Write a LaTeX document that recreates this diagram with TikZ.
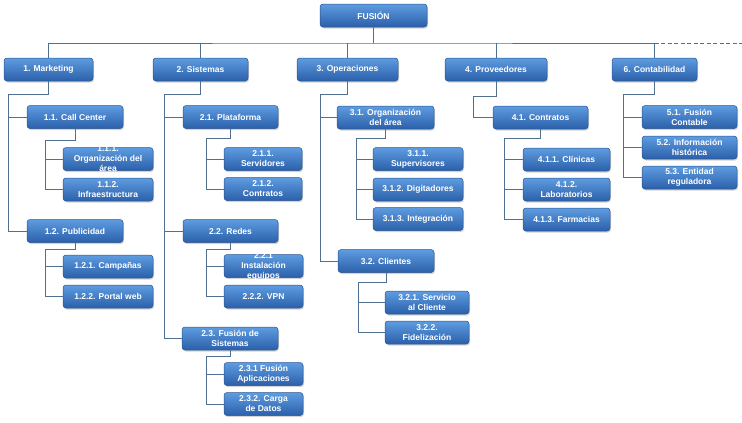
\documentclass[tikz,border=0pt]{standalone}
\usepackage{fontspec}
\setmainfont{Liberation Sans}
\usetikzlibrary{shadows}

\definecolor{boxtop}{HTML}{5E9CE0}
\definecolor{boxbot}{HTML}{2B60AA}
\definecolor{boxline}{HTML}{2A5590}
\definecolor{linea}{HTML}{4F7090}

\tikzset{
  box/.style={rectangle, rounded corners=3pt, draw=boxline, line width=0.5pt,
    top color=boxtop, bottom color=boxbot, minimum height=23pt, inner sep=0pt,
    drop shadow={shadow xshift=1pt, shadow yshift=-1.5pt, opacity=0.35}},
  txt/.style={text=white, font=\fontsize{8.5}{10}\selectfont\bfseries,
    align=center, inner sep=0pt},
  conn/.style={draw=linea, line width=0.8pt},
}

\begin{document}
\begin{tikzpicture}[x=1pt, y=-1pt]
    \useasboundingbox (0,0) rectangle (742,423);

    % Raiz
    \node[box, minimum width=107pt, label={[txt]center:FUSIÓN}] (fusion) at (373.5,15.5) {};

    % Nivel 1
    \node[box, minimum width=89pt, label={[txt]center:1. Marketing}] (mkt) at (48.5,69.5) {};
    \node[box, minimum width=95pt, label={[txt]center:2. Sistemas}] (sis) at (200.5,69.5) {};
    \node[box, minimum width=101pt, label={[txt]center:3. Operaciones}] (ope) at (347.5,69.5) {};
    \node[box, minimum width=102pt, label={[txt]center:4. Proveedores}] (prov) at (496,69.5) {};
    \node[box, minimum width=85pt, label={[txt]center:6. Contabilidad}] (cont) at (654.5,69.5) {};

    % Marketing
    \node[box, minimum width=96pt, label={[txt]center:1.1. Call Center}] (m1) at (75,117) {};
    \node[box, minimum width=90pt, label={[txt]center:{1.1.1.\\Organización del\\área}}] (m11) at (108,159) {};
    \node[box, minimum width=90pt, label={[txt]center:{1.1.2.\\Infraestructura}}] (m12) at (108,189.5) {};
    \node[box, minimum width=96pt, label={[txt]center:1.2. Publicidad}] (m2) at (75,231) {};
    \node[box, minimum width=90pt, label={[txt]center:1.2.1. Campañas}] (m21) at (108,266.5) {};
    \node[box, minimum width=90pt, label={[txt]center:1.2.2. Portal web}] (m22) at (108,296.5) {};

    % Sistemas
    \node[box, minimum width=95pt, label={[txt]center:2.1. Plataforma}] (s1) at (230.5,117) {};
    \node[box, minimum width=78pt, label={[txt]center:{2.1.1.\\Servidores}}] (s11) at (263,159) {};
    \node[box, minimum width=78pt, label={[txt]center:{2.1.2.\\Contratos}}] (s12) at (263,189) {};
    \node[box, minimum width=95pt, label={[txt]center:2.2. Redes}] (s2) at (230.5,231) {};
    \node[box, minimum width=79pt, label={[txt]center:{2.2.1\\Instalación\\equipos}}] (s21) at (263.5,266) {};
    \node[box, minimum width=79pt, label={[txt]center:2.2.2. VPN}] (s22) at (263.5,296.5) {};
    \node[box, minimum width=96pt, label={[txt]center:{2.3. Fusión de\\Sistemas}}] (s3) at (230,338.5) {};
    \node[box, minimum width=79pt, label={[txt]center:{2.3.1 Fusión\\Aplicaciones}}] (s31) at (263.5,374) {};
    \node[box, minimum width=79pt, label={[txt]center:{2.3.2. Carga\\de Datos}}] (s32) at (263.5,404) {};

    % Operaciones
    \node[box, minimum width=97pt, label={[txt]center:{3.1. Organización\\del área}}] (o1) at (385.5,117.5) {};
    \node[box, minimum width=90pt, label={[txt]center:{3.1.1.\\Supervisores}}] (o11) at (418,159) {};
    \node[box, minimum width=90pt, label={[txt]center:3.1.2. Digitadores}] (o12) at (418,189.5) {};
    \node[box, minimum width=90pt, label={[txt]center:3.1.3. Integración}] (o13) at (418,219) {};
    \node[box, minimum width=96pt, label={[txt]center:3.2. Clientes}] (o2) at (386,261) {};
    \node[box, minimum width=84pt, label={[txt]center:{3.2.1. Servicio\\al Cliente}}] (o21) at (427,302.5) {};
    \node[box, minimum width=84pt, label={[txt]center:{3.2.2.\\Fidelización}}] (o22) at (427,332.5) {};

    % Proveedores
    \node[box, minimum width=95pt, label={[txt]center:4.1. Contratos}] (p1) at (540.5,117.5) {};
    \node[box, minimum width=87pt, label={[txt]center:4.1.1. Clínicas}] (p11) at (566.5,159.5) {};
    \node[box, minimum width=87pt, label={[txt]center:{4.1.2.\\Laboratorios}}] (p12) at (566.5,189.5) {};
    \node[box, minimum width=87pt, label={[txt]center:4.1.3. Farmacias}] (p13) at (566.5,219.5) {};

    % Contabilidad
    \node[box, minimum width=95pt, label={[txt]center:{5.1. Fusión\\Contable}}] (c1) at (689.5,117) {};
    \node[box, minimum width=95pt, label={[txt]center:{5.2. Información\\histórica}}] (c2) at (689.5,147.5) {};
    \node[box, minimum width=95pt, label={[txt]center:{5.3. Entidad\\reguladora}}] (c3) at (689.5,177.5) {};

    % Puntos de quiebre
    \coordinate (bus) at (373.5,43);
    \coordinate (busend) at (742,43);
    \coordinate (mkt-c) at (8,94);
    \coordinate (m1-c) at (45,140);
    \coordinate (m2-c) at (45,249);
    \coordinate (sis-c) at (164,94);
    \coordinate (s1-c) at (206,138);
    \coordinate (s2-c) at (206,249);
    \coordinate (s3-c) at (206,356);
    \coordinate (ope-c) at (320,94);
    \coordinate (o1-c) at (356,138);
    \coordinate (o2-c) at (358,282);
    \coordinate (prov-c) at (473,96);
    \coordinate (p1-c) at (504,138);
    \coordinate (cont-c) at (623,94);

    % Barra superior
    \draw[conn] (fusion.south) -- (bus);
    \draw[conn] (mkt.north) |- (bus) -| (cont.north);
    \draw[conn] (sis.north) -- (sis.north |- bus);
    \draw[conn] (ope.north) -- (ope.north |- bus);
    \draw[conn] (prov.north) -- (prov.north |- bus);
    \draw[conn, dash pattern=on 4pt off 2.5pt] (cont.north |- bus) -- (busend);

    % Conectores Marketing
    \draw[conn] (mkt.south) |- (mkt-c) |- (m2.west);
    \draw[conn] (m1.west) -- (m1.west -| mkt-c);
    \draw[conn] (m1.south) |- (m1-c) |- (m12.west);
    \draw[conn] (m11.west) -- (m11.west -| m1-c);
    \draw[conn] (m2.south) |- (m2-c) |- (m22.west);
    \draw[conn] (m21.west) -- (m21.west -| m2-c);

    % Conectores Sistemas
    \draw[conn] (sis.south) |- (sis-c) |- (s3.west);
    \draw[conn] (s1.west) -- (s1.west -| sis-c);
    \draw[conn] (s2.west) -- (s2.west -| sis-c);
    \draw[conn] (s1.south) |- (s1-c) |- (s12.west);
    \draw[conn] (s11.west) -- (s11.west -| s1-c);
    \draw[conn] (s2.south) |- (s2-c) |- (s22.west);
    \draw[conn] (s21.west) -- (s21.west -| s2-c);
    \draw[conn] (s3.south) |- (s3-c) |- (s32.west);
    \draw[conn] (s31.west) -- (s31.west -| s3-c);

    % Conectores Operaciones
    \draw[conn] (ope.south) |- (ope-c) |- (o2.west);
    \draw[conn] (o1.west) -- (o1.west -| ope-c);
    \draw[conn] (o1.south) |- (o1-c) |- (o13.west);
    \draw[conn] (o11.west) -- (o11.west -| o1-c);
    \draw[conn] (o12.west) -- (o12.west -| o1-c);
    \draw[conn] (o2.south) |- (o2-c) |- (o22.west);
    \draw[conn] (o21.west) -- (o21.west -| o2-c);

    % Conectores Proveedores
    \draw[conn] (prov.south) |- (prov-c) |- (p1.west);
    \draw[conn] (p1.south) |- (p1-c) |- (p13.west);
    \draw[conn] (p11.west) -- (p11.west -| p1-c);
    \draw[conn] (p12.west) -- (p12.west -| p1-c);

    % Conectores Contabilidad
    \draw[conn] (cont.south) |- (cont-c) |- (c3.west);
    \draw[conn] (c1.west) -- (c1.west -| cont-c);
    \draw[conn] (c2.west) -- (c2.west -| cont-c);
\end{tikzpicture}
\end{document}
